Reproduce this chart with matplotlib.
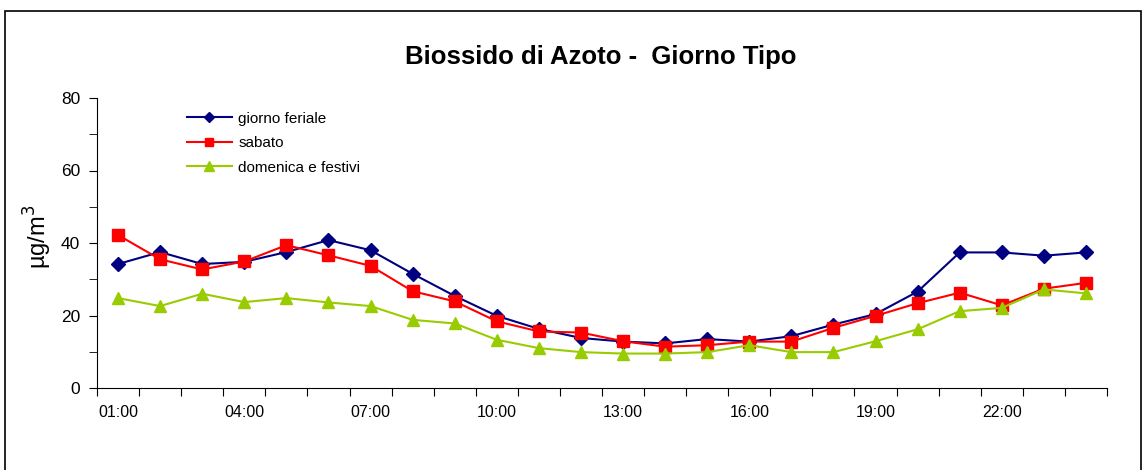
import matplotlib
matplotlib.use('Agg')
import matplotlib.pyplot as plt
from matplotlib.patches import Rectangle
from matplotlib.ticker import MultipleLocator

plt.rcParams['font.family'] = ['Liberation Sans', 'DejaVu Sans']

hours = ['%02d:00' % h for h in range(1, 25)]

feriale = [34.2, 37.5, 34.2, 34.8, 37.5, 40.8, 38.0, 31.5, 25.4, 19.9, 16.3, 13.8,
           12.8, 12.3, 13.5, 12.8, 14.3, 17.5, 20.4, 26.6, 37.4, 37.4, 36.5, 37.4]
sabato = [42.2, 35.5, 32.7, 34.9, 39.4, 36.6, 33.7, 26.7, 23.9, 18.4, 15.6, 15.3,
          12.9, 11.4, 11.8, 12.8, 12.8, 16.6, 19.9, 23.4, 26.3, 22.8, 27.4, 29.0]
festivi = [24.8, 22.6, 26.0, 23.7, 24.8, 23.6, 22.6, 18.8, 17.8, 13.3, 11.0, 9.9,
           9.5, 9.5, 9.9, 11.8, 9.9, 9.9, 12.9, 16.2, 21.2, 22.1, 27.2, 26.1]

fig = plt.figure(figsize=(11.43, 4.70), dpi=100)
fig.patches.append(Rectangle((5 / 1143, -0.05), 1136 / 1143, 1.05 - 11 / 470,
                             transform=fig.transFigure, fill=False,
                             edgecolor='black', linewidth=1.2))

ax = fig.add_axes([97 / 1143, 1 - 388 / 470, 1010 / 1143, 290 / 470])
x = list(range(len(hours)))

ax.plot(x, feriale, color='#000080', linewidth=1.5, marker='D', markersize=7,
        label='giorno feriale')
ax.plot(x, sabato, color='#FF0000', linewidth=1.5, marker='s', markersize=8,
        label='sabato')
ax.plot(x, festivi, color='#99CC00', linewidth=1.5, marker='^', markersize=9,
        label='domenica e festivi')

ax.set_xlim(-0.5, 23.5)
ax.set_ylim(0, 80)
# tick marks between categories, labels on every third category
ax.set_xticks([i + 0.5 for i in range(-1, 24)], minor=False)
ax.set_xticklabels([])
ax.set_xticks(x[::3], minor=True)
ax.set_xticklabels(hours[::3], minor=True, fontsize=11.5)
ax.tick_params(axis='x', which='minor', length=0, pad=12)
ax.tick_params(axis='x', which='major', length=6, direction='out')
ax.yaxis.set_major_locator(MultipleLocator(20))
ax.yaxis.set_minor_locator(MultipleLocator(10))
ax.tick_params(axis='y', which='both', length=6, direction='out', labelsize=12.5, pad=6)
ax.spines['top'].set_visible(False)
ax.spines['right'].set_visible(False)

ax.set_ylabel('µg/m$^3$', fontsize=17)
ax.yaxis.set_label_coords(-43 / 1010, 0.52)
fig.text(601 / 1143, 1 - 57 / 470, 'Biossido di Azoto -  Giorno Tipo', fontsize=18.5,
         fontweight='bold', ha='center', va='center')

ax.legend(loc='upper left', bbox_to_anchor=(0.075, 1.0), frameon=False,
          fontsize=11, handlelength=3.0, handletextpad=0.4, labelspacing=0.68,
          markerscale=0.8)

plt.savefig('out.png', dpi=100)
